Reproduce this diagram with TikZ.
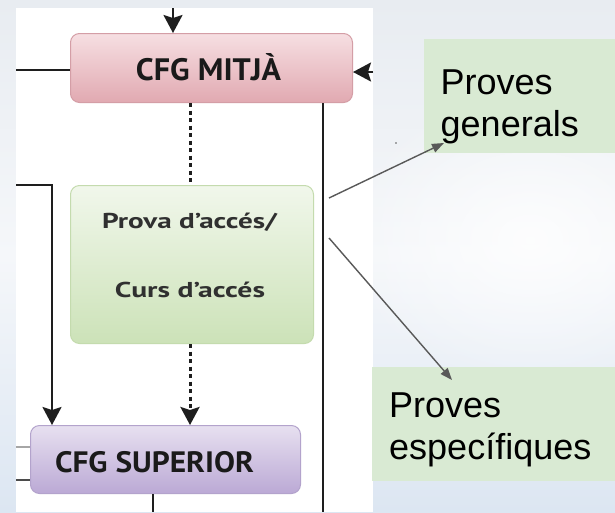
\documentclass[tikz,border=0pt]{standalone}
\usepackage{fontspec}
\usepackage{graphicx}
\usetikzlibrary{arrows.meta,fadings}
\newfontfamily\arialf{Liberation Sans}
\newfontfamily\boxf{PT Sans}
\definecolor{bgtop}{HTML}{E8ECF1}
\definecolor{bgmid}{HTML}{F5F7FA}
\definecolor{bgbot}{HTML}{DCE6F2}
\definecolor{lineblk}{HTML}{1E1E1E}
\definecolor{grayline}{HTML}{595959}
\definecolor{notegreen}{HTML}{D9EAD3}
\definecolor{pinktop}{HTML}{F6DFE2}
\definecolor{pinkbot}{HTML}{E1A9B1}
\definecolor{pinkdraw}{HTML}{D49EA6}
\definecolor{greentop}{HTML}{F1F7EB}
\definecolor{greenbot}{HTML}{CCE2B8}
\definecolor{greendraw}{HTML}{C4DBAE}
\definecolor{purptop}{HTML}{E7E0F0}
\definecolor{purpbot}{HTML}{BBA9D5}
\definecolor{purpdraw}{HTML}{B3A3CC}
\definecolor{boxtext}{HTML}{1A1A1A}
\definecolor{provatext}{HTML}{303030}
\tikzfading[name=glowfade, inner color=transparent!0, outer color=transparent!100]
\begin{document}
\begin{tikzpicture}[x=1pt,y=-1pt,
  blk/.style={line width=2.2pt, draw=lineblk},
  blkhead/.style={-{Stealth[length=18pt,width=19pt,inset=3pt]}},
  blkarr/.style={blk, blkhead},
  dots/.style={line width=3pt, draw=lineblk, dash pattern=on 4pt off 3.5pt},
  grayarr/.style={line width=1.4pt, draw=grayline, -{Triangle[length=12pt,width=9pt]}},
  boxbase/.style={rounded corners=9pt, line width=1pt, inner sep=0pt, anchor=north west},
  pinkbox/.style={boxbase, draw=pinkdraw, top color=pinktop, bottom color=pinkbot},
  greenbox/.style={boxbase, draw=greendraw, top color=greentop, bottom color=greenbot},
  purpbox/.style={boxbase, draw=purpdraw, top color=purptop, bottom color=purpbot},
  lbl/.style={inner sep=0pt, anchor=base, text=boxtext},
  notebox/.style={fill=notegreen, inner sep=0pt, anchor=north west},
  notetxt/.style={inner sep=0pt, anchor=base west, text=black, font=\arialf\fontsize{36}{42}\selectfont}
]
\useasboundingbox (0,0) rectangle (615,512);
% background
\shade[top color=bgtop, bottom color=bgbot, middle color=bgmid] (0,0) rectangle (615,512);
\fill[white, path fading=glowfade, opacity=0.8] (530,240) ellipse (190 and 150);
% white panel
\fill[white] (16,8) rectangle (373,512);
% note boxes
\node[notebox, minimum width=191pt, minimum height=114pt] (gen) at (424,39) {};
\node[notebox, minimum width=243pt, minimum height=114pt] (esp) at (372,367) {};
\node[notetxt] (genA) at (440.5,94) {Proves};
\node[notetxt] (genB) at (440.5,136) {generals};
\node[notetxt] (espA) at (389,417.5) {Proves};
\node[notetxt] (espB) at (389,459) {específiques};
% flow boxes
\node[pinkbox, minimum width=282pt, minimum height=69pt] (mitja) at (70,33) {};
\node[greenbox, minimum width=243pt, minimum height=158pt] (prova) at (70,185) {};
\node[purpbox, minimum width=270pt, minimum height=68pt] (sup) at (30,425) {};
\node[lbl, font=\boxf\bfseries\fontsize{31}{36}\selectfont] (mitjaT) at (208.5,80) {\resizebox{145pt}{\height}{CFG MITJÀ}};
\node[lbl, font=\boxf\bfseries\fontsize{21.5}{26}\selectfont, text=provatext] (provaA) at (189.5,228) {\resizebox{175pt}{\height}{Prova d’accés/}};
\node[lbl, font=\boxf\bfseries\fontsize{21.5}{26}\selectfont, text=provatext] (provaB) at (190,297) {\resizebox{150pt}{\height}{Curs d’accés}};
\node[lbl, font=\boxf\bfseries\fontsize{29.5}{34}\selectfont] (supT) at (154.5,472.5) {\resizebox{199pt}{\height}{CFG SUPERIOR}};
% connectors
\coordinate (topin) at (173,8);
\draw[blkarr] (topin) -- (topin |- mitja.north);
\coordinate (leftin) at (16,70);
\draw[blk] (leftin) -- (leftin -| mitja.west);
\coordinate (rightin) at (373,72);
\draw[blkarr] (rightin) -- (rightin -| mitja.east);
\coordinate (dx) at (190,0);
\draw[dots] (dx |- mitja.south) -- (dx |- prova.north);
\draw[dots, blkhead] (dx |- prova.south) -- (dx |- sup.north);
\coordinate (rv) at (323,512);
\draw[blk] (rv |- mitja.south) -- (rv);
\coordinate (lstart) at (16,185);
\coordinate (lx) at (52,185);
\draw[blkarr] (lstart) -- (lx) -- (lx |- sup.north);
\coordinate (sd) at (153,512);
\draw[blk] (sd |- sup.south) -- (sd);
\coordinate (sl1) at (16,447);
\draw[line width=1.2pt, draw=gray!70] (sl1) -- (sl1 -| sup.west);
\coordinate (sl2) at (16,480);
\draw[line width=1.6pt, draw=lineblk!80] (sl2) -- (sl2 -| sup.west);
% gray arrows
\coordinate (g1) at (329,198);
\coordinate (g1e) at (444,143);
\draw[grayarr] (g1) -- (g1e);
\coordinate (g2) at (329,238);
\coordinate (g2e) at (452,380);
\draw[grayarr] (g2) -- (g2e);
\fill[grayline] (396,143) circle (0.9pt);
\end{tikzpicture}
\end{document}
